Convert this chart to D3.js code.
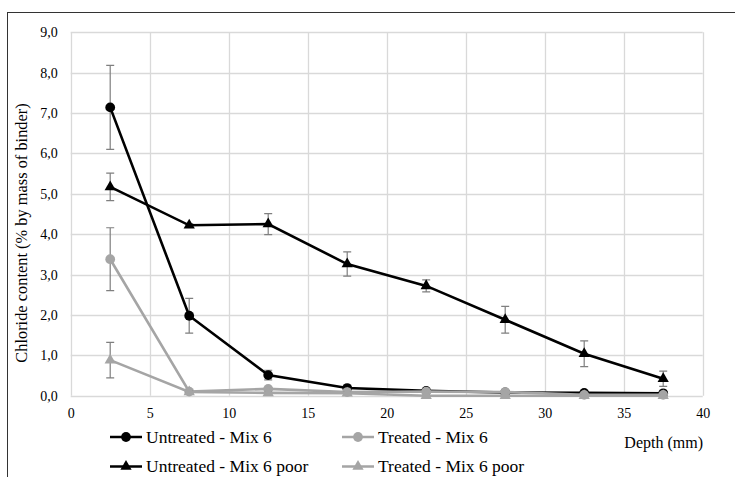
<!DOCTYPE html>
<html><head><meta charset="utf-8">
<script src="https://cdn.jsdelivr.net/npm/d3@7"></script>
<style>body{margin:0;background:#fff}svg{display:block}</style>
</head><body><svg id="c" width="735" height="477"></svg>
<script>
const depths = [2.5, 7.5, 12.5, 17.5, 22.5, 27.5, 32.5, 37.5];
const untreatedMix6 = [7.14, 1.98, 0.51, 0.19, 0.12, 0.08, 0.07, 0.06];
const untreatedMix6Err = [1.04, 0.43, 0.12, 0.03, 0.02, 0.02, 0.02, 0.02];
const treatedMix6 = [3.38, 0.10, 0.17, 0.09, 0.10, 0.09, 0.02, 0.02];
const treatedMix6Err = [0.78, 0.02, 0.03, 0.02, 0.02, 0.02, 0.01, 0.01];
const untreatedPoor = [5.17, 4.22, 4.25, 3.26, 2.72, 1.88, 1.04, 0.42];
const untreatedPoorErr = [0.34, 0.04, 0.26, 0.30, 0.15, 0.33, 0.32, 0.19];
const treatedPoor = [0.88, 0.09, 0.07, 0.06, 0.00, 0.00, 0.00, 0.00];
const treatedPoorErr = [0.44, 0.02, 0.02, 0.02, 0.01, 0.01, 0.01, 0.01];
const seriesNames = ["Untreated - Mix 6", "Treated - Mix 6", "Untreated - Mix 6 poor", "Treated - Mix 6 poor"];
const xTicks = [0, 5, 10, 15, 20, 25, 30, 35, 40];
const yTicks = [0, 1, 2, 3, 4, 5, 6, 7, 8, 9];
const xTitle = "Depth (mm)";
const yTitle = "Chloride content (% by mass of binder)";

const FONT = "'Liberation Serif', 'Times New Roman', Tinos, 'DejaVu Serif', serif";

const series = [
  {name: seriesNames[0], v: untreatedMix6, e: untreatedMix6Err, color: "#000", sym: d3.symbolCircle},
  {name: seriesNames[1], v: treatedMix6, e: treatedMix6Err, color: "#a5a5a5", sym: d3.symbolCircle},
  {name: seriesNames[2], v: untreatedPoor, e: untreatedPoorErr, color: "#000", sym: d3.symbolTriangle},
  {name: seriesNames[3], v: treatedPoor, e: treatedPoorErr, color: "#a5a5a5", sym: d3.symbolTriangle}
];

const svg = d3.select("#c");
svg.append("rect").attr("x", 7.5).attr("y", 12.5).attr("width", 760).attr("height", 520)
  .attr("fill", "none").attr("stroke", "#333").attr("stroke-width", 1);

const x = d3.scaleLinear().domain([0, 40]).range([70.7, 702.7]);
const y = d3.scaleLinear().domain([0, 9]).range([395.7, 32.3]);

const g = svg.append("g");
g.selectAll(".gx").data(xTicks).join("line")
  .attr("x1", d => Math.round(x(d)) + 0.5).attr("x2", d => Math.round(x(d)) + 0.5)
  .attr("y1", y(9)).attr("y2", y(0)).attr("stroke", "#d9d9d9").attr("stroke-width", 1.3);
g.selectAll(".gy").data(yTicks).join("line")
  .attr("y1", d => Math.round(y(d)) + 0.5).attr("y2", d => Math.round(y(d)) + 0.5)
  .attr("x1", x(0)).attr("x2", x(40)).attr("stroke", "#d9d9d9").attr("stroke-width", 1.3);

const fmt = d => d3.format(".1f")(d).replace(".", ",");
const ax = svg.append("g").attr("transform", `translate(0,${y(0)})`)
  .call(d3.axisBottom(x).tickValues(xTicks).tickSize(0).tickPadding(12).tickFormat(d3.format("d")));
ax.attr("font-family", FONT).attr("font-size", 14);
ax.select(".domain").remove();
ax.selectAll("text").attr("fill", "#000");
const ay = svg.append("g").attr("transform", `translate(${x(0)},0)`)
  .call(d3.axisLeft(y).tickValues(yTicks).tickSize(0).tickPadding(13).tickFormat(fmt));
ay.attr("font-family", FONT).attr("font-size", 14);
ay.select(".domain").remove();
ay.selectAll("text").attr("fill", "#000");

svg.append("text").attr("transform", "translate(27,233) rotate(-90)").attr("text-anchor", "middle")
  .attr("font-family", FONT).attr("font-size", 16.4).text(yTitle);
svg.append("text").attr("x", 703).attr("y", 448).attr("text-anchor", "end")
  .attr("font-family", FONT).attr("font-size", 16).text(xTitle);

const line = d3.line().x((d, i) => x(depths[i])).y(d => y(d));
series.forEach(s => {
  const sg = svg.append("g");
  sg.selectAll(".eb").data(s.v).join("path")
    .attr("d", (d, i) => {
      const cx = x(depths[i]), y1 = y(d + s.e[i]), y2 = y(Math.max(0, d - s.e[i]));
      return `M${cx},${y1}V${y2}M${cx-4},${y1}H${cx+4}M${cx-4},${y2}H${cx+4}`;
    })
    .attr("stroke", "#7f7f7f").attr("stroke-width", 1.2).attr("fill", "none");
  sg.append("path").attr("d", line(s.v)).attr("fill", "none").attr("stroke", s.color).attr("stroke-width", 2.6);
  sg.selectAll(".m").data(s.v).join("path")
    .attr("transform", (d, i) => `translate(${x(depths[i])},${y(d)})`)
    .attr("d", d3.symbol().type(s.sym).size(s.sym === d3.symbolCircle ? 75 : 55))
    .attr("fill", s.color);
});

const legPos = [[110, 437], [342, 437], [110, 466.5], [342, 466.5]];
series.forEach((s, i) => {
  const [lx, ly] = legPos[i];
  const lg = svg.append("g");
  lg.append("line").attr("x1", lx).attr("x2", lx + 32).attr("y1", ly).attr("y2", ly)
    .attr("stroke", s.color).attr("stroke-width", 2.5);
  lg.append("path").attr("transform", `translate(${lx + 16},${ly})`)
    .attr("d", d3.symbol().type(s.sym).size(s.sym === d3.symbolCircle ? 75 : 55)).attr("fill", s.color);
  lg.append("text").attr("x", lx + 36).attr("y", ly + 5.5).attr("font-family", FONT)
    .attr("font-size", 17.5).text(s.name);
});
</script></body></html>
